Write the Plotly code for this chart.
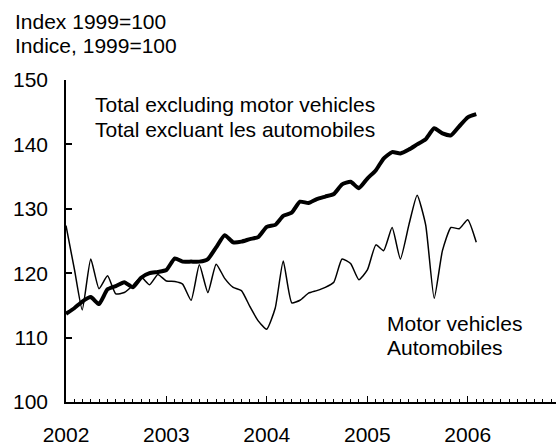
import pandas as pd
import plotly.graph_objects as go

# Monthly index values, January 2002 to February 2006 (1999=100)
months = pd.date_range("2002-01-01", periods=50, freq="MS")

total_excl_motor_vehicles = [
    113.7, 114.6, 115.6, 116.3, 115.2, 117.5, 118.0, 118.6, 117.8, 119.3,
    120.0, 120.2, 120.5, 122.3, 121.8, 121.8, 121.8, 122.2, 124.0, 125.9,
    124.8, 124.9, 125.3, 125.6, 127.2, 127.5, 128.9, 129.4, 131.1, 130.9,
    131.5, 131.9, 132.3, 133.8, 134.2, 133.2, 134.7, 136.0, 137.8, 138.8,
    138.6, 139.2, 140.0, 140.8, 142.5, 141.7, 141.4, 142.8, 144.2, 144.7,
]

motor_vehicles = [
    127.4, 120.5, 114.3, 122.2, 117.6, 119.6, 116.8, 117.0, 118.1, 119.4,
    118.2, 119.8, 118.8, 118.7, 118.3, 115.8, 121.3, 117.0, 121.4, 119.2,
    117.8, 117.3, 114.8, 112.6, 111.3, 114.6, 121.9, 115.4, 115.8, 116.9,
    117.3, 117.8, 118.6, 122.2, 121.5, 119.0, 120.5, 124.4, 123.5, 127.1,
    122.2, 127.5, 132.1, 127.5, 116.1, 123.5, 127.1, 126.9, 128.3, 124.8,
]

y_ticks = [100, 110, 120, 130, 140, 150]

FONT = "Liberation Sans, Arial, sans-serif"
FS = 21
W, H = 556, 446
L, R, T, B = 66, 0, 80, 38

fig = go.Figure()
fig.add_trace(go.Scatter(
    x=months, y=total_excl_motor_vehicles, mode="lines",
    line=dict(color="black", width=4, shape="spline", smoothing=0.5),
    hoverinfo="skip",
))
fig.add_trace(go.Scatter(
    x=months, y=motor_vehicles, mode="lines",
    line=dict(color="black", width=1.5, shape="spline", smoothing=0.5),
    hoverinfo="skip",
))

pw = W - L - R
ph = H - T - B


def px(xp):
    return (xp - L) / pw


def py(yp):
    return (H - B - yp) / ph


labels = [
    ("Index 1999=100", 13, 20),
    ("Indice, 1999=100", 13, 45),
    ("Total excluding motor vehicles", 93, 105),
    ("Total excluant les automobiles", 93, 130),
    ("Motor vehicles", 385, 328),
    ("Automobiles", 385, 352),
]
for text, x0, y0 in labels:
    fig.add_annotation(
        text=text, xref="paper", yref="paper", x=px(x0), y=py(y0),
        xanchor="left", yanchor="middle", showarrow=False,
        font=dict(family=FONT, size=FS, color="black"),
    )

fig.update_layout(
    width=W, height=H,
    margin=dict(l=L, r=R, t=T, b=B, pad=0),
    paper_bgcolor="white", plot_bgcolor="white",
    showlegend=False,
    font=dict(family=FONT, size=FS, color="black"),
)
fig.update_xaxes(
    type="date",
    range=["2002-01-01", "2006-11-18"],
    tick0="2002-01-01", dtick="M12", tickformat="%Y",
    ticks="inside", ticklen=6, tickwidth=1.2, tickcolor="black",
    minor=dict(dtick="M1", ticks="inside", ticklen=3, tickwidth=1, tickcolor="black"),
    showline=True, linecolor="black", linewidth=1.5,
    showgrid=False, zeroline=False,
    ticklabelstandoff=13,
)
fig.update_yaxes(
    range=[100, 150], tickvals=y_ticks,
    ticks="inside", ticklen=6, tickwidth=1.5, tickcolor="black",
    showline=True, linecolor="black", linewidth=1.5,
    showgrid=False, zeroline=False,
    ticklabelstandoff=12,
)

fig.write_html("out.html")
